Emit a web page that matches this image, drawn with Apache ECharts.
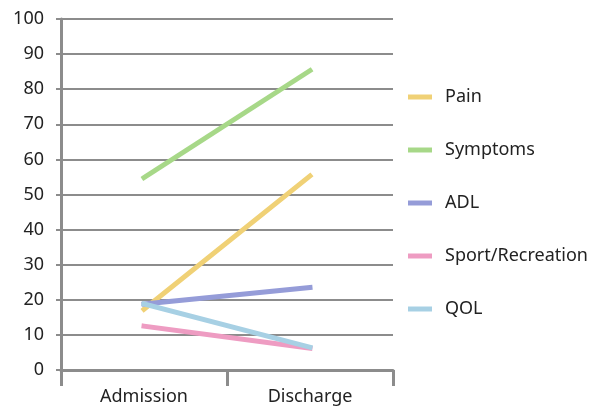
<!DOCTYPE html>
<html>
<head>
<meta charset="utf-8">
<script src="https://cdn.jsdelivr.net/npm/echarts@6/dist/echarts.min.js"></script>
<style>
  html, body { margin: 0; padding: 0; background: #fff; }
  #chart { width: 604px; height: 407px; }
</style>
</head>
<body>
<div id="chart"></div>
<script>
// KOOS subscale scores at admission and discharge
const categories = ['Admission', 'Discharge'];
const pain = [17.3, 55.3];
const symptoms = [54.8, 85.3];
const adl = [18.8, 23.5];
const sportRecreation = [12.5, 6.2];
const qol = [18.8, 6.5];
const yTicks = { min: 0, max: 100, interval: 10 };

const seriesDefs = [
  { name: 'Pain', data: pain, color: '#F0D176' },
  { name: 'Symptoms', data: symptoms, color: '#A7D888' },
  { name: 'ADL', data: adl, color: '#959CD8' },
  { name: 'Sport/Recreation', data: sportRecreation, color: '#EE9CC2' },
  { name: 'QOL', data: qol, color: '#A7D0E4' }
];

const font = '"Noto Sans", sans-serif';
const chart = echarts.init(document.getElementById('chart'), null, { renderer: 'canvas' });

chart.setOption({
  animation: false,
  backgroundColor: '#ffffff',
  grid: { left: 61, right: 211, top: 19, bottom: 37 },
  legend: {
    orient: 'vertical',
    left: 408,
    top: 88,
    padding: 0,
    icon: 'rect',
    itemWidth: 24,
    itemHeight: 5,
    itemGap: 35,
    textStyle: { fontFamily: font, fontSize: 18, color: '#222', padding: [0, 0, 0, 8] },
    data: seriesDefs.map(s => s.name)
  },
  xAxis: {
    type: 'category',
    data: categories,
    boundaryGap: true,
    axisLine: { lineStyle: { color: '#8c8c8c', width: 3 } },
    axisTick: { show: true, length: 16, lineStyle: { color: '#8c8c8c', width: 3 } },
    axisLabel: { fontFamily: font, fontSize: 18, color: '#222', margin: 18 }
  },
  yAxis: {
    type: 'value',
    min: yTicks.min,
    max: yTicks.max,
    interval: yTicks.interval,
    axisLine: { show: true, lineStyle: { color: '#8c8c8c', width: 3 } },
    axisTick: { show: true, length: 5, lineStyle: { color: '#8c8c8c', width: 2 } },
    splitLine: { lineStyle: { color: '#8c8c8c', width: 2 } },
    axisLabel: { fontFamily: font, fontSize: 18, color: '#222', margin: 17 }
  },
  series: seriesDefs.map(s => ({
    name: s.name,
    type: 'line',
    data: s.data,
    symbol: 'none',
    lineStyle: { color: s.color, width: 5, cap: 'square' },
    itemStyle: { color: s.color }
  }))
});
</script>
</body>
</html>
